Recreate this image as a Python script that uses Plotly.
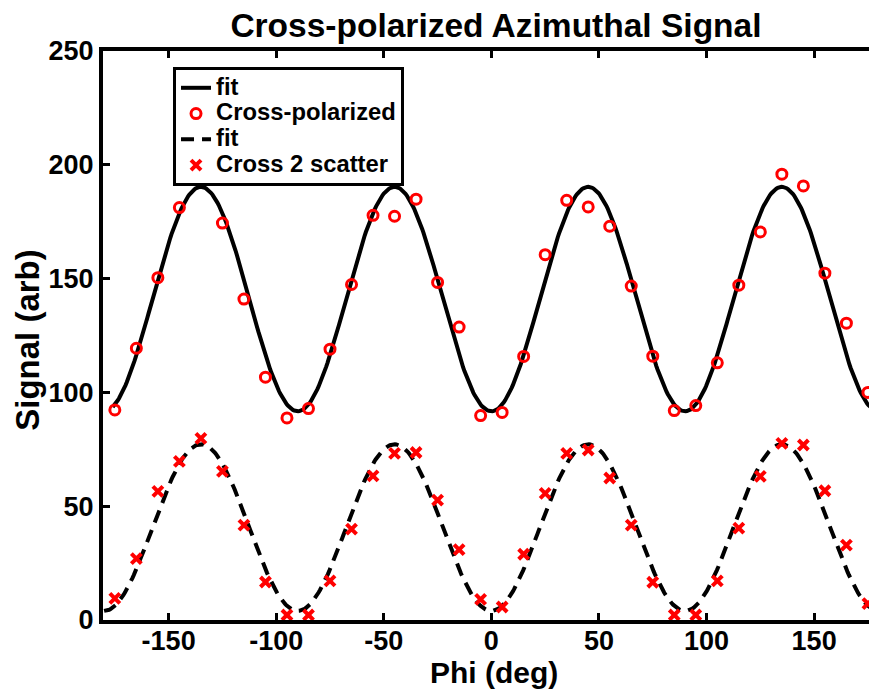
import numpy as np
import plotly.graph_objects as go

# Azimuthal angle (deg) of each measurement
phi = [-175, -165, -155, -145, -135, -125, -115, -105, -95, -85, -75, -65,
       -55, -45, -35, -25, -15, -5, 5, 15, 25, 35, 45, 55,
       65, 75, 85, 95, 105, 115, 125, 135, 145, 155, 165, 175]

# Cross-polarized signal (arb); the -135 deg sample sits under the legend
cross_pol = [92.3, 119.4, 150.4, 181.2, None, 174.4, 141.0, 106.7, 88.8, 92.9, 119.0, 147.4,
             177.8, 177.4, 184.9, 148.3, 128.7, 89.8, 91.2, 115.8, 160.5, 184.4, 181.5, 173.0,
             146.7, 115.9, 92.0, 94.2, 113.0, 147.1, 170.5, 195.9, 190.7, 152.4, 130.4, 100.0]

# Second cross-polarized scatter channel (arb)
cross2 = [9.5, 27.0, 56.5, 69.7, 79.8, 65.3, 41.7, 16.7, 2.2, 2.2, 17.2, 39.9,
          63.3, 73.2, 73.6, 52.7, 30.9, 9.1, 5.7, 28.9, 55.6, 73.2, 74.7, 62.4,
          41.7, 16.6, 2.2, 2.2, 17.2, 40.4, 63.1, 77.6, 76.9, 56.8, 32.9, 7.2]

# Fit parameters: signal = offset - amplitude * cos(4 * phi)
fit_cross_offset, fit_cross_amp = 141.0, 49.3
fit_cross2_offset, fit_cross2_amp = 40.6, 36.6

x_ticks = [-150, -100, -50, 0, 50, 100, 150]
x_tick_labels = ["-150", "-100", "-50", "0", "50", "100", "150"]
y_ticks = [0, 50, 100, 150, 200, 250]

phi_fit1 = np.linspace(-176, 180, 600)
phi_fit2 = np.linspace(-180, 180, 600)
fit1 = fit_cross_offset - fit_cross_amp * np.cos(np.radians(4 * phi_fit1))
fit2 = fit_cross2_offset - fit_cross2_amp * np.cos(np.radians(4 * phi_fit2))

FONT = "Liberation Sans"


def legend_label(text):
    # legend rows stay compact while the label text is drawn a bit larger
    return f'<span style="font-size:23.8px">{text}</span>'


fig = go.Figure()
fig.add_trace(go.Scatter(x=phi_fit1, y=fit1, mode="lines", name=legend_label("fit"),
                         line=dict(color="black", width=4)))
fig.add_trace(go.Scatter(x=phi, y=cross_pol, mode="markers",
                         name=legend_label("Cross-polarized"),
                         marker=dict(symbol="circle-open", size=10, color="red",
                                     line=dict(color="red", width=3))))
fig.add_trace(go.Scatter(x=phi_fit2, y=fit2, mode="lines", name=legend_label("fit"),
                         line=dict(color="black", width=4, dash="13px,8px")))
fig.add_trace(go.Scatter(x=phi, y=cross2, mode="markers",
                         name=legend_label("Cross 2 scatter"),
                         marker=dict(symbol="x-thin-open", size=10, color="red",
                                     line=dict(color="red", width=4))))

axis_common = dict(
    showgrid=False, zeroline=False, showline=True, linecolor="black", linewidth=4,
    ticks="inside", ticklen=7, tickwidth=3, tickcolor="black",
    tickfont=dict(family=FONT, size=27, color="black", weight="bold"),
)

fig.update_layout(
    width=869, height=690,
    margin=dict(l=103, r=0, t=51, b=70, pad=0),
    paper_bgcolor="white", plot_bgcolor="white",
    showlegend=True,
    title=dict(text="Cross-polarized Azimuthal Signal", xref="paper", x=0.513,
               xanchor="center", yref="container", y=1 - 25 / 690, yanchor="middle",
               font=dict(family=FONT, size=33.5, color="black", weight="bold")),
    xaxis=dict(range=[-180.5, 175.5], tickvals=x_ticks, ticktext=x_tick_labels,
               mirror="ticks", ticklabelstandoff=-6, **axis_common),
    yaxis=dict(range=[0, 250], tickvals=y_ticks, mirror=False, **axis_common),
    legend=dict(x=0.0914, y=0.972, xanchor="left", yanchor="top",
                bgcolor="white", bordercolor="black", borderwidth=3,
                font=dict(family=FONT, size=17.5, color="black", weight="bold"),
                itemwidth=30, tracegroupgap=0),
    annotations=[
        dict(text="Phi (deg)", xref="paper", yref="paper", x=0.5104, y=-0.093,
             xanchor="center", yanchor="middle", showarrow=False,
             font=dict(family=FONT, size=30, color="black", weight="bold")),
        dict(text="Signal (arb)", xref="paper", yref="paper", x=-0.0996, y=0.492,
             xanchor="center", yanchor="middle", textangle=-90, showarrow=False,
             font=dict(family=FONT, size=33, color="black", weight="bold")),
    ],
)

fig.write_html("out.html")
